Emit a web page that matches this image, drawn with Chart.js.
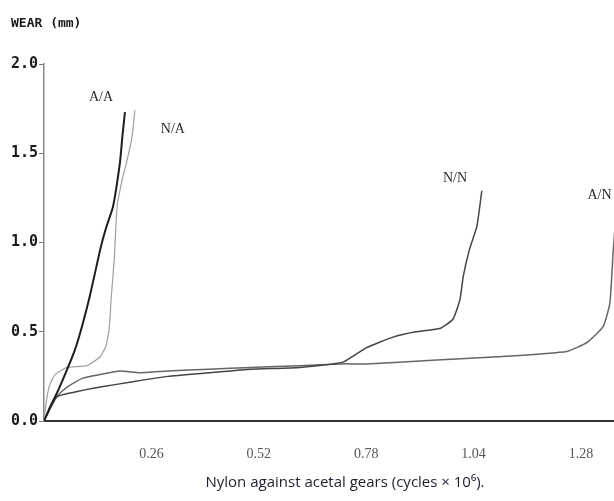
<!DOCTYPE html>
<html>
<head>
<meta charset="utf-8">
<script src="https://cdn.jsdelivr.net/npm/chart.js@4"></script>
<style>
  html, body { margin: 0; padding: 0; background: #fff; }
  #wrap { width: 614px; height: 501px; }
</style>
</head>
<body>
<div id="wrap"><canvas id="wearChart" width="614" height="501"></canvas></div>
<script>
// cycles x 10^6 vs wear (mm)
const aaCycles = [0, 0.015, 0.034, 0.058, 0.075, 0.092, 0.111, 0.136, 0.150, 0.167, 0.184, 0.190, 0.196];
const aaWear   = [0, 0.08, 0.17, 0.30, 0.40, 0.53, 0.70, 0.96, 1.08, 1.20, 1.45, 1.60, 1.73];

const naCycles = [0, 0.007, 0.015, 0.027, 0.056, 0.104, 0.136, 0.150, 0.158, 0.163, 0.170, 0.177, 0.190, 0.200, 0.213, 0.220];
const naWear   = [0, 0.13, 0.21, 0.26, 0.30, 0.31, 0.36, 0.42, 0.52, 0.70, 0.90, 1.20, 1.36, 1.45, 1.59, 1.74];

const nnCycles = [0, 0.031, 0.070, 0.136, 0.215, 0.30, 0.40, 0.50, 0.62, 0.724, 0.78, 0.845, 0.90, 0.96, 0.99, 1.007, 1.015, 1.03, 1.048, 1.06];
const nnWear   = [0, 0.135, 0.16, 0.19, 0.22, 0.25, 0.27, 0.29, 0.30, 0.33, 0.41, 0.47, 0.50, 0.52, 0.57, 0.68, 0.81, 0.96, 1.09, 1.29];

const anCycles = [0, 0.027, 0.056, 0.094, 0.136, 0.184, 0.232, 0.30, 0.40, 0.50, 0.62, 0.72, 0.78, 0.94, 1.10, 1.266, 1.315, 1.354, 1.37, 1.378, 1.39];
const anWear   = [0, 0.13, 0.19, 0.24, 0.26, 0.28, 0.27, 0.28, 0.29, 0.30, 0.31, 0.32, 0.32, 0.34, 0.36, 0.39, 0.44, 0.53, 0.66, 0.95, 1.3];

const xTickValues = [0.26, 0.52, 0.78, 1.04, 1.30];
const xTickLabels = ["0.26", "0.52", "0.78", "1.04", "1.28"];

// curve names, placed in data coordinates
const curveNames = ["A/A", "N/A", "N/N", "A/N"];
const nameX = [0.138, 0.312, 0.995, 1.345];
const nameY = [1.815, 1.636, 1.36, 1.266];

function pts(xs, ys) {
  return xs.map((x, i) => ({ x: x, y: ys[i] }));
}

// titles + curve labels drawn on top
const textPlugin = {
  id: "textPlugin",
  afterDraw(chart) {
    const ctx = chart.ctx;
    const xs = chart.scales.x, ys = chart.scales.y;
    ctx.save();
    ctx.textBaseline = "middle";

    ctx.fillStyle = "#1a1a1a";
    ctx.font = "bold 13px 'DejaVu Sans Mono'";
    ctx.textAlign = "left";
    ctx.fillText("WEAR (mm)", 11, 24);

    ctx.fillStyle = "#1e1e30";
    ctx.font = "15px 'Open Sans'";
    ctx.textAlign = "center";
    ctx.fillText("Nylon against acetal gears (cycles \u00d7 10\u2076).", 345, 483);

    ctx.fillStyle = "#2a2a2a";
    ctx.font = "14px 'Liberation Serif'";
    curveNames.forEach((n, i) => {
      ctx.fillText(n, xs.getPixelForValue(nameX[i]), ys.getPixelForValue(nameY[i]));
    });
    ctx.restore();
  }
};

const ctx = document.getElementById("wearChart").getContext("2d");

new Chart(ctx, {
  type: "line",
  data: {
    datasets: [
      { label: "A/A", data: pts(aaCycles, aaWear), borderColor: "#1e1e1e", borderWidth: 2 },
      { label: "N/A", data: pts(naCycles, naWear), borderColor: "#a0a0a0", borderWidth: 1.2 },
      { label: "N/N", data: pts(nnCycles, nnWear), borderColor: "#444", borderWidth: 1.5 },
      { label: "A/N", data: pts(anCycles, anWear), borderColor: "#666", borderWidth: 1.5 },
    ]
  },
  options: {
    responsive: false,
    animation: false,
    parsing: false,
    elements: {
      point: { radius: 0 },
      line: { tension: 0.15, fill: false }
    },
    layout: { padding: { top: 64, right: 0, left: 0, bottom: 0 } },
    plugins: {
      legend: { display: false },
      tooltip: { enabled: false }
    },
    scales: {
      x: {
        type: "linear",
        min: 0,
        max: 1.38,
        grid: { display: false },
        border: { color: "#333", width: 2 },
        afterBuildTicks: (s) => { s.ticks = xTickValues.map(v => ({ value: v })); },
        afterFit: (s) => { s.height = 80; },
        ticks: {
          padding: 17,
          color: "#555",
          font: { family: "'Liberation Serif'", size: 14 },
          callback: (v, i) => xTickLabels[i]
        }
      },
      y: {
        min: 0,
        max: 2.0,
        grid: { drawOnChartArea: false, tickLength: 5, color: "#777" },
        border: { color: "#888", width: 1.5 },
        afterFit: (s) => { s.width = 44; },
        ticks: {
          stepSize: 0.5,
          padding: 1,
          color: "#1a1a1a",
          font: { family: "'DejaVu Sans Mono'", size: 15, weight: "bold" },
          callback: (v) => v.toFixed(1)
        }
      }
    }
  },
  plugins: [textPlugin]
});
</script>
</body>
</html>
